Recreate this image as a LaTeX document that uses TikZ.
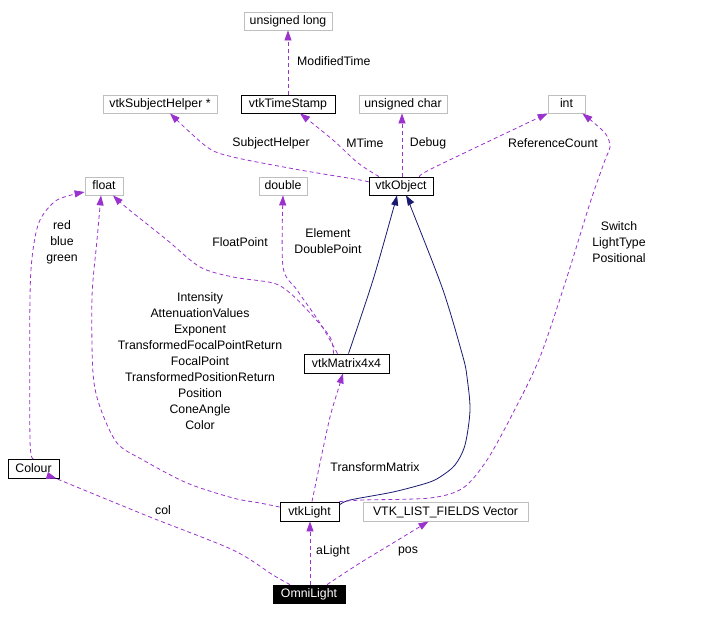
\documentclass[tikz,border=0pt]{standalone}
\usepackage{fontspec}
\setmainfont{Liberation Sans}
\usetikzlibrary{arrows.meta}
\definecolor{edgepurple}{HTML}{9A32CD}
\definecolor{edgenavy}{HTML}{191970}
\definecolor{boxgray}{HTML}{BFBFBF}
\begin{document}
\begin{tikzpicture}[x=1pt,y=-1pt,
  every node/.style={font=\fontsize{12.3}{16}\selectfont, inner sep=0pt},
  bx/.style={rectangle, line width=0.8pt, minimum height=18pt, text height=9pt, text depth=1.5pt},
  gbox/.style={bx, draw=boxgray},
  kbox/.style={bx, draw=black},
  obox/.style={bx, draw=black, fill=black, text=white},
  use/.style={draw=edgepurple, line width=0.8pt, dash pattern=on 4pt off 3pt, -{Triangle[length=10pt,width=7pt,fill=edgepurple]}},
  inh/.style={draw=edgenavy, line width=0.8pt, -{Triangle[length=10pt,width=7pt,fill=edgenavy]}},
  lbl/.style={align=center}
]
\useasboundingbox (0,0) rectangle (708,616);
% nodes
\node[gbox, minimum width=88pt] (ulong) at (288,21) {unsigned long};
\node[gbox, minimum width=114pt] (subj) at (160,104) {vtkSubjectHelper *};
\node[kbox, minimum width=94pt] (tstamp) at (288,104) {vtkTimeStamp};
\node[gbox, minimum width=88pt] (uchar) at (403,104) {unsigned char};
\node[gbox, minimum width=37pt] (int) at (566.5,104) {int};
\node[gbox, minimum width=38pt] (float) at (104,186) {float};
\node[gbox, minimum width=48pt] (double) at (283,186) {double};
\node[kbox, minimum width=64pt] (obj) at (401,186) {vtkObject};
\node[kbox, minimum width=85pt, minimum height=19pt] (matrix) at (346.5,363.5) {vtkMatrix4x4};
\node[kbox, minimum width=51pt, minimum height=19pt] (colour) at (33.5,468.5) {Colour};
\node[kbox, minimum width=59pt, minimum height=19pt] (light) at (309.5,511.5) {vtkLight};
\node[gbox, minimum width=165pt, minimum height=19pt] (vec) at (445.5,511.5) {VTK\_LIST\_FIELDS Vector};
\node[obox, minimum width=72pt] (omni) at (309,594) {OmniLight};

% edges
\draw[use] (tstamp.north) -- (ulong.south);
\draw[use] plot[smooth] coordinates {([yshift=4pt]obj.west) (360,180) (300,170) (233,157) (207,147) ([xshift=10pt]subj.south)};
\draw[use] plot[smooth] coordinates {([xshift=-22pt]obj.north) (358,163) (333,140) ([xshift=12pt]tstamp.south)};
\draw[use] ([xshift=1pt]obj.north) -- ([xshift=-1pt]uchar.south);
\draw[use] plot[smooth] coordinates {([xshift=19pt]obj.north) (433,168) (int.south west)};
\draw[inh] plot[smooth] coordinates {([xshift=2pt]matrix.north) (373,280) (393,210) ([xshift=-4pt]obj.south)};
\draw[inh] plot[smooth] coordinates {([yshift=6.5pt]light.east) (350,500) (393,492) (427,483) (440,477) (455,465) (465,445) (470,410) (467,377) (463,357) (443,290) (412,210) ([xshift=5pt]obj.south)};
\draw[use] plot[smooth] coordinates {([xshift=-13pt]matrix.north) (330,337) (310,313) (290,293) (273,283) (233,277) (200,267) (167,240) (127,208) ([xshift=9pt]float.south)};
\draw[use] plot[smooth] coordinates {([xshift=-9pt]matrix.north) (320,323) (297,290) (283,267) (double.south)};
\draw[use] plot[smooth] coordinates {([yshift=4.5pt]light.west) (260,503) (233,498) (187,483) (143,460) (117,443) (100,407) (93,373) (92,297) (97,240) ([xshift=-3pt]float.south)};
\draw[use] plot[smooth] coordinates {(colour.north) (30,440) (30,297) (33,250) (40,220) (57,200) ([yshift=-6pt]float.west)};
\draw[use] plot[smooth] coordinates {([xshift=2.5pt]light.north) (320,463) (330,417) (338,390) ([xshift=-3.5pt]matrix.south)};
\draw[use] plot[smooth] coordinates {(light.north east) (363,500) (430,498) (463,488) (487,460) (513,413) (540,357) (567,277) (590,203) (605,160) (610,147) (605,133) ([xshift=-3pt]int.south east)};
\draw[use] plot[smooth] coordinates {([xshift=-19pt]omni.north) (273,575) (233,550) (150,517) (67,483) ([xshift=23pt]colour.south)};
\draw[use] ([xshift=1pt]omni.north) -- ([xshift=0.5pt]light.south);
\draw[use] plot[smooth] coordinates {([xshift=18pt]omni.north) (360,563) (393,543) ([xshift=-17pt]vec.south)};

% labels
\node[lbl, anchor=west] (lmod) at (297,61) {ModifiedTime};
\node[lbl] (lsubj) at (271,143) {SubjectHelper};
\node[lbl] (lmt) at (365,143) {MTime};
\node[lbl] (ldbg) at (428,143) {Debug};
\node[lbl] (lref) at (553,143) {ReferenceCount};
\node[lbl] (lfp) at (240,242) {FloatPoint};
\node[lbl] (lel) at (328,241) {Element\\DoublePoint};
\node[lbl] (lrgb) at (62,242) {red\\blue\\green};
\node[lbl] (lsw) at (619,242) {Switch\\LightType\\Positional};
\node[lbl] (lint) at (200,361) {Intensity\\AttenuationValues\\Exponent\\TransformedFocalPointReturn\\FocalPoint\\TransformedPositionReturn\\Position\\ConeAngle\\Color};
\node[lbl] (ltm) at (375,467) {TransformMatrix};
\node[lbl] (lcol) at (163,510) {col};
\node[lbl] (lal) at (333,551) {aLight};
\node[lbl] (lpos) at (408,551) {pos};
\end{tikzpicture}
\end{document}
